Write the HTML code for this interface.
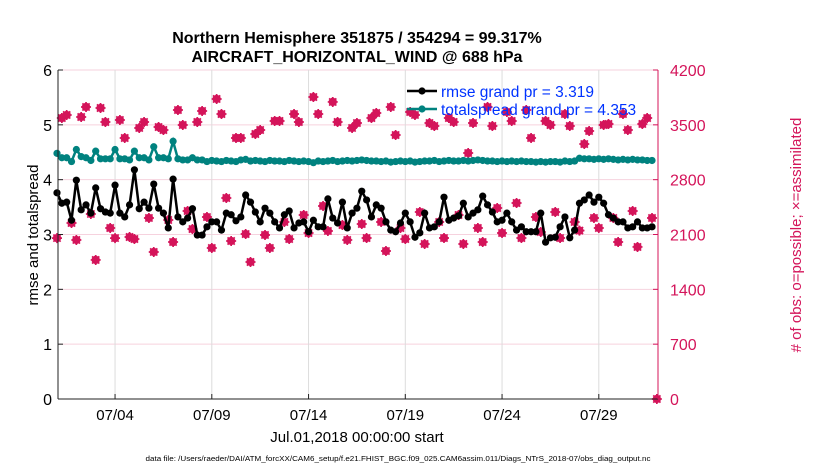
<!DOCTYPE html>
<html><head><meta charset="utf-8"><style>
html,body{margin:0;padding:0;background:#fff;width:830px;height:470px;overflow:hidden}
svg{display:block;font-family:"Liberation Sans",Arial,sans-serif}
</style></head><body>
<svg id="chart" width="830" height="470" viewBox="0 0 830 470" xmlns="http://www.w3.org/2000/svg">
<g id="grid"></g>
<g id="series"></g>
<g id="axes"></g>
<text x="357" y="43" text-anchor="middle" font-size="16" font-weight="bold">Northern Hemisphere 351875 / 354294 = 99.317%</text>
<text x="357" y="62" text-anchor="middle" font-size="16" font-weight="bold">AIRCRAFT_HORIZONTAL_WIND @ 688 hPa</text>
<text transform="translate(38,235) rotate(-90)" text-anchor="middle" font-size="15">rmse and totalspread</text>
<text transform="translate(801,235) rotate(-90)" text-anchor="middle" font-size="15" fill="#d4145a"># of obs: o=possible; ×=assimilated</text>
<text x="357" y="442" text-anchor="middle" font-size="15">Jul.01,2018 00:00:00 start</text>
<text x="398" y="461" text-anchor="middle" font-size="7" textLength="505" lengthAdjust="spacingAndGlyphs">data file: /Users/raeder/DAI/ATM_forcXX/CAM6_setup/f.e21.FHIST_BGC.f09_025.CAM6assim.011/Diags_NTrS_2018-07/obs_diag_output.nc</text>
<g id="legend"></g>
</svg>
<script>
const rmse=[3.76,3.57,3.59,3.26,3.99,3.45,3.54,3.39,3.85,3.47,3.41,3.39,3.90,3.39,3.32,3.54,4.18,3.47,3.59,3.48,3.92,3.48,3.39,3.12,4.01,3.32,3.23,3.30,3.47,2.99,2.99,3.14,3.23,
3.23,3.08,3.39,3.36,3.25,3.32,3.72,3.59,3.41,3.23,3.48,3.39,3.23,3.12,3.36,3.43,3.12,3.21,3.23,3.05,3.26,3.14,3.14,3.65,3.30,3.21,3.59,3.12,3.39,3.48,3.79,3.63,
3.32,3.54,3.48,3.23,3.08,3.05,3.21,3.39,3.23,2.95,3.03,3.39,3.12,3.14,3.23,3.68,3.26,3.30,3.34,3.57,3.32,3.39,3.45,3.70,3.54,3.41,3.23,3.26,3.39,3.23,3.08,
3.14,3.05,3.05,3.05,3.39,2.86,2.94,2.95,3.14,3.32,2.94,3.08,3.57,3.63,3.72,3.59,3.68,3.57,3.36,3.30,3.23,3.23,3.12,3.14,3.23,3.12,3.12,3.14];
const spread=[4.48,4.40,4.40,4.33,4.55,4.42,4.40,4.35,4.52,4.38,4.38,4.38,4.55,4.38,4.38,4.36,4.52,4.40,4.40,4.36,4.60,4.40,4.40,4.38,4.70,4.38,4.36,4.36,4.40,4.36,4.36,4.33,4.35,
4.34,4.33,4.35,4.34,4.33,4.36,4.37,4.34,4.35,4.34,4.33,4.35,4.34,4.34,4.33,4.35,4.34,4.33,4.34,4.33,4.31,4.34,4.33,4.34,4.35,4.33,4.34,4.35,4.34,4.35,4.36,4.35,
4.34,4.34,4.33,4.34,4.32,4.33,4.34,4.33,4.34,4.32,4.33,4.34,4.34,4.35,4.33,4.34,4.35,4.34,4.34,4.35,4.34,4.35,4.36,4.35,4.34,4.34,4.33,4.34,4.33,4.34,4.33,
4.34,4.33,4.33,4.32,4.33,4.32,4.33,4.33,4.32,4.34,4.33,4.34,4.39,4.38,4.38,4.37,4.38,4.37,4.38,4.37,4.36,4.37,4.36,4.37,4.36,4.36,4.35,4.35];
const nobs=[2054,3587,3626,2247,2030,3600,3728,2362,1775,3715,3536,2183,2054,3562,3332,2068,2042,3460,3536,2311,1877,3472,3434,2285,2004,3689,3498,2400,2170,3536,3677,2323,1928,
3830,3638,2566,2017,3332,3332,2106,1749,3383,3434,2094,1928,3549,3549,2260,2042,3638,3536,2349,2119,3855,3638,2464,2145,3792,3536,2221,2030,3460,3523,
2234,2055,3587,3651,2260,1889,3728,3370,2183,2042,3664,3626,2387,1979,3523,3485,2260,2055,3587,3536,2349,1979,3140,3523,2183,2004,3728,3485,2438,2119,3664,3549,2502,
2055,3689,3332,2323,2132,3549,3498,2387,2055,3638,3485,2260,2150,3255,3421,2311,2183,3498,3511,2311,2004,3638,3434,2400,1941,3511,3587,2311,0];
const xTickLabels=["07/04","07/09","07/14","07/19","07/24","07/29"];
const xTickDays=[3,8,13,18,23,28];
const yTicks=[0,1,2,3,4,5,6];
const y2Ticks=[0,700,1400,2100,2800,3500,4200];

const X0=57,PXDAY=19.35,LEFT=58,RIGHT=658,TOP=70,BOT=399;
const xs=d=>X0+d*PXDAY;
const ys=v=>BOT-(v/6)*(BOT-TOP);
const y2s=v=>BOT-(v/4200)*(BOT-TOP);
const NS="http://www.w3.org/2000/svg";
function mk(t,a,p){const e=document.createElementNS(NS,t);for(const k in a)e.setAttribute(k,a[k]);p.appendChild(e);return e;}
const grid=document.getElementById('grid'),axes=document.getElementById('axes'),ser=document.getElementById('series'),leg=document.getElementById('legend');
const MAG="#d4145a";

yTicks.forEach((v,i)=>{
  if(v>0){const g=mk('line',{x1:LEFT,x2:RIGHT,y1:ys(v),y2:ys(v),stroke:'#f6d2de','stroke-width':1},grid);
  
  }
  const t=mk('text',{x:52,y:ys(v)+6,'text-anchor':'end','font-size':16},axes);t.textContent=v;
  
  
  mk('line',{x1:LEFT,x2:LEFT+5,y1:ys(v),y2:ys(v),stroke:'#222'},axes);
});
y2Ticks.forEach(v=>{
  const t=mk('text',{x:670,y:y2s(v)+6,'font-size':16,fill:MAG},axes);t.textContent=v;
  
  
  mk('line',{x1:RIGHT-5,x2:RIGHT,y1:y2s(v),y2:y2s(v),stroke:MAG},axes);
});
xTickDays.forEach((d,i)=>{
  const g=mk('line',{x1:xs(d),x2:xs(d),y1:TOP,y2:BOT,stroke:'#dcdcdc'},grid);
  
  
  mk('line',{x1:xs(d),x2:xs(d),y1:BOT-5,y2:BOT,stroke:'#222'},axes);
  const t=mk('text',{x:xs(d),y:420,'text-anchor':'middle','font-size':15},axes);t.textContent=xTickLabels[i];
  
  
});
const la=mk('line',{x1:LEFT,x2:LEFT,y1:TOP,y2:BOT,stroke:'#222'},axes);


const ba=mk('line',{x1:LEFT,x2:RIGHT,y1:BOT,y2:BOT,stroke:'#222'},axes);


const ra=mk('line',{x1:RIGHT,x2:RIGHT,y1:TOP,y2:BOT,stroke:MAG},axes);



nobs.forEach((v,i)=>{
  const cx=xs(i*0.25),cy=y2s(v);
  const g=mk('g',{stroke:MAG,'stroke-width':1.7,fill:'none'},ser);
  
  
  mk('circle',{cx:cx,cy:cy,r:3.3,fill:MAG},g);
  mk('path',{d:`M${cx-5} ${cy}H${cx+5}M${cx} ${cy-5}V${cy+5}M${cx-3.6} ${cy-3.6}L${cx+3.6} ${cy+3.6}M${cx-3.6} ${cy+3.6}L${cx+3.6} ${cy-3.6}`},g);
});
function drawLine(arr,color,name){
  const pts=arr.map((v,i)=>xs(i*0.25).toFixed(1)+','+ys(v).toFixed(1)).join(' ');
  const p=mk('polyline',{points:pts,fill:'none',stroke:color,'stroke-width':2.5},ser);
  
  
  arr.forEach((v,i)=>{const c=mk('circle',{cx:xs(i*0.25),cy:ys(v),r:3.6,fill:color},ser);
    
    });
}
drawLine(spread,'#00827f','totalspread');
drawLine(rmse,'#000','rmse');

[['#000','rmse grand pr = 3.319',91],['#00827f','totalspread grand pr = 4.353',109]].forEach(([c,t,y],i)=>{
  const g=mk('g',{},leg);
  
  
  mk('line',{x1:407,x2:437,y1:y,y2:y,stroke:c,'stroke-width':2.5},g);
  mk('circle',{cx:422,cy:y,r:3.6,fill:c},g);
  const tx=mk('text',{x:441,y:y+6,'font-size':15.5,fill:'#0033ff'},g);tx.textContent=t;
});
</script>
</body></html>
